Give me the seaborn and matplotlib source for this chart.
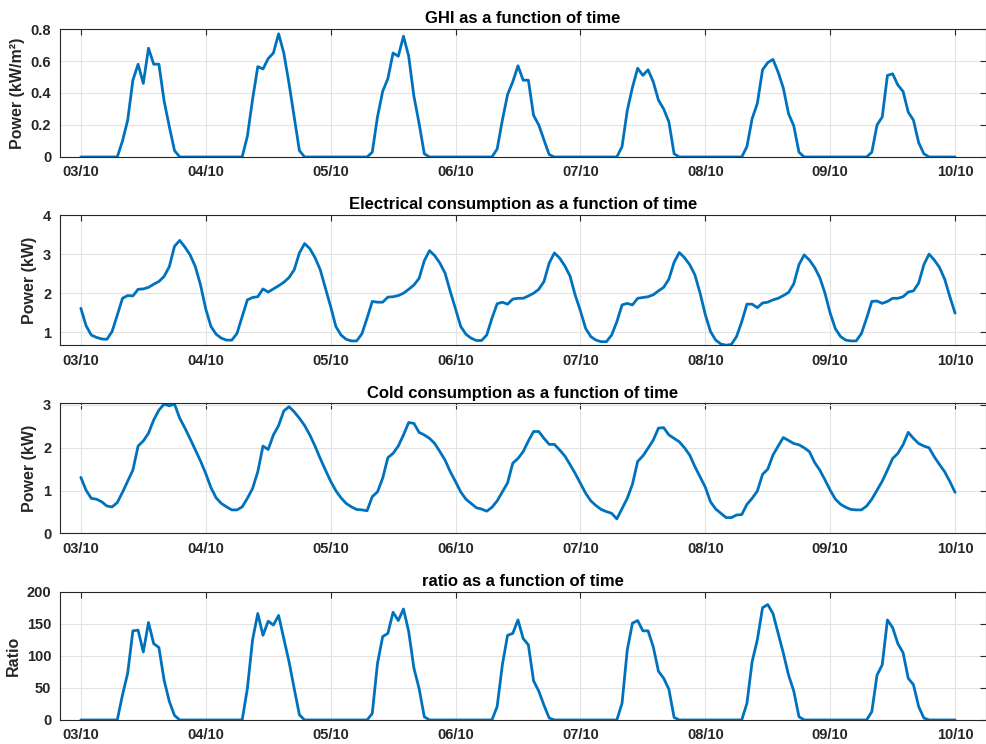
import pandas as pd
import numpy as np
import matplotlib
matplotlib.use("Agg")
import matplotlib.pyplot as plt
import matplotlib.dates as mdates
import seaborn as sns

# hourly samples, 03/10 00:00 -> 10/10 00:00
times = pd.date_range("2023-10-03 00:00", periods=169, freq="h")

z8 = [0] * 8
z5 = [0] * 5
ghi = (z8 + [0.10, 0.23, 0.48, 0.58, 0.46, 0.68, 0.58, 0.58, 0.35, 0.19, 0.04] + z5
       + z8 + [0.13, 0.36, 0.565, 0.55, 0.615, 0.65, 0.77, 0.65, 0.46, 0.25, 0.04] + z5
       + z8 + [0.03, 0.25, 0.41, 0.49, 0.65, 0.63, 0.755, 0.63, 0.38, 0.21, 0.02] + z5
       + z8 + [0.05, 0.23, 0.39, 0.47, 0.57, 0.48, 0.48, 0.26, 0.20, 0.106, 0.015] + z5
       + z8 + [0.065, 0.29, 0.435, 0.555, 0.51, 0.545, 0.47, 0.355, 0.30, 0.22, 0.02] + z5
       + z8 + [0.065, 0.24, 0.335, 0.545, 0.59, 0.61, 0.53, 0.43, 0.27, 0.195, 0.03] + z5
       + z8 + [0.03, 0.20, 0.25, 0.51, 0.52, 0.45, 0.41, 0.28, 0.23, 0.09, 0.02] + z5
       + [0])

elec = [1.615, 1.17, 0.93, 0.87, 0.83, 0.82, 1.02, 1.44, 1.87, 1.94, 1.93, 2.10,
        2.11, 2.15, 2.23, 2.30, 2.43, 2.68, 3.20, 3.35, 3.18, 2.98, 2.68, 2.21,
        1.60, 1.15, 0.95, 0.85, 0.80, 0.80, 0.97, 1.40, 1.83, 1.89, 1.91, 2.11,
        2.03, 2.11, 2.19, 2.28, 2.40, 2.60, 3.03, 3.27, 3.14, 2.91, 2.60, 2.13,
        1.66, 1.15, 0.93, 0.82, 0.78, 0.78, 0.96, 1.36, 1.79, 1.77, 1.77, 1.90,
        1.91, 1.94, 2.00, 2.10, 2.21, 2.38, 2.83, 3.09, 2.96, 2.77, 2.51, 2.04,
        1.60, 1.15, 0.95, 0.85, 0.79, 0.79, 0.93, 1.36, 1.73, 1.77, 1.72, 1.85,
        1.87, 1.87, 1.93, 2.00, 2.10, 2.30, 2.77, 3.03, 2.90, 2.70, 2.44, 1.95,
        1.55, 1.10, 0.89, 0.80, 0.76, 0.76, 0.93, 1.27, 1.70, 1.74, 1.70, 1.87,
        1.89, 1.91, 1.96, 2.06, 2.15, 2.36, 2.79, 3.04, 2.91, 2.73, 2.47, 2.00,
        1.45, 1.02, 0.80, 0.70, 0.67, 0.69, 0.89, 1.27, 1.72, 1.72, 1.63, 1.75,
        1.77, 1.83, 1.87, 1.94, 2.02, 2.24, 2.73, 2.98, 2.85, 2.66, 2.40, 2.00,
        1.49, 1.09, 0.89, 0.80, 0.78, 0.78, 0.97, 1.36, 1.79, 1.80, 1.74, 1.79,
        1.87, 1.87, 1.91, 2.03, 2.06, 2.26, 2.73, 3.00, 2.85, 2.66, 2.36, 1.91,
        1.49]

cold = [1.31, 1.01, 0.82, 0.80, 0.74, 0.64, 0.62, 0.72, 0.96, 1.22, 1.48, 2.04,
        2.16, 2.34, 2.65, 2.88, 3.02, 2.98, 3.02, 2.69, 2.46, 2.21, 1.95, 1.69,
        1.40, 1.07, 0.83, 0.70, 0.62, 0.55, 0.55, 0.62, 0.82, 1.05, 1.44, 2.04,
        1.96, 2.30, 2.52, 2.86, 2.96, 2.84, 2.69, 2.52, 2.30, 2.04, 1.75, 1.48,
        1.22, 1.00, 0.83, 0.70, 0.62, 0.56, 0.55, 0.53, 0.86, 0.97, 1.29, 1.77,
        1.87, 2.04, 2.30, 2.59, 2.57, 2.36, 2.30, 2.22, 2.10, 1.91, 1.71, 1.44,
        1.21, 0.97, 0.80, 0.70, 0.60, 0.57, 0.52, 0.61, 0.76, 0.97, 1.18, 1.64,
        1.75, 1.91, 2.16, 2.38, 2.38, 2.22, 2.08, 2.08, 1.95, 1.81, 1.61, 1.40,
        1.17, 0.94, 0.76, 0.65, 0.56, 0.51, 0.47, 0.34, 0.58, 0.82, 1.15, 1.68,
        1.81, 1.99, 2.18, 2.46, 2.47, 2.30, 2.22, 2.14, 2.00, 1.83, 1.56, 1.32,
        1.08, 0.74, 0.57, 0.47, 0.37, 0.37, 0.43, 0.44, 0.68, 0.82, 0.99, 1.38,
        1.50, 1.83, 2.04, 2.24, 2.17, 2.10, 2.07, 2.00, 1.91, 1.66, 1.48, 1.25,
        1.01, 0.80, 0.68, 0.61, 0.56, 0.55, 0.55, 0.64, 0.80, 1.01, 1.22, 1.48,
        1.75, 1.87, 2.07, 2.36, 2.22, 2.10, 2.04, 2.00, 1.79, 1.61, 1.44, 1.21,
        0.96]

ratio = (z8 + [39, 73, 139, 140, 106, 152, 119, 113, 62, 29, 7] + z5
         + z8 + [49, 125, 166, 132, 154, 148, 163, 127, 91, 49, 8] + z5
         + z8 + [10, 88, 130, 135, 168, 155, 173, 138, 81, 49, 5] + z5
         + z8 + [21, 86, 132, 135, 156, 127, 117, 61, 45, 23, 3] + z5
         + z8 + [26, 109, 151, 155, 139, 139, 114, 76, 65, 48, 4] + z5
         + z8 + [26, 91, 125, 175, 180, 166, 135, 104, 70, 45, 5] + z5
         + z8 + [13, 70, 86, 156, 144, 119, 105, 65, 55, 21, 3] + z5
         + [0])

titles = ["GHI as a function of time",
          "Electrical consumption as a function of time",
          "Cold consumption as a function of time",
          "ratio as a function of time"]
ylabels = ["Power (kW/m²)", "Power (kW)", "Power (kW)", "Ratio"]
yticks = [[0, 0.2, 0.4, 0.6, 0.8], [1, 2, 3, 4], [0, 1, 2, 3], [0, 50, 100, 150, 200]]
ylims = [(0, 0.8), (0.67, 4), (0, 3.04), (0, 200)]
series = [ghi, elec, cold, ratio]

sns.set_style("white")
plt.rcParams['font.family'] = ['Liberation Sans', 'DejaVu Sans']
plt.rcParams['font.weight'] = 'bold'

fig = plt.figure(figsize=(9.87, 7.44), dpi=100)
# axes boxes: [left, bottom, width, height] in figure fraction
boxes = [[0.0603, 0.789, 0.939, 0.172],
         [0.0603, 0.536, 0.939, 0.175],
         [0.0603, 0.283, 0.939, 0.175],
         [0.0603, 0.0323, 0.939, 0.1724]]

xmin = pd.Timestamp("2023-10-03 00:00") - pd.Timedelta(hours=4.1)
xmax = pd.Timestamp("2023-10-10 00:00") + pd.Timedelta(hours=6.0)

for box, y, title, ylab, yt, yl in zip(boxes, series, titles, ylabels, yticks, ylims):
    ax = fig.add_axes(box)
    sns.lineplot(x=times, y=y, ax=ax, color="#0072BD", linewidth=2)
    ax.set_xlim(xmin, xmax)
    ax.set_ylim(*yl)
    ax.set_yticks(yt)
    ax.set_yticklabels([f"{v:g}" for v in yt])
    ax.xaxis.set_major_locator(mdates.DayLocator())
    ax.xaxis.set_major_formatter(mdates.DateFormatter("%d/%m"))
    ax.grid(True, color="#e3e3e3", linewidth=0.8)
    ax.tick_params(direction="in", length=4, width=0.8, top=True, right=True,
                   labelsize=10.5, colors="#262626", pad=6)
    for lab in ax.get_xticklabels() + ax.get_yticklabels():
        lab.set_fontweight("bold")
    for s in ax.spines.values():
        s.set_color("#262626")
        s.set_linewidth(0.8)
    ax.set_title(title, fontsize=12, fontweight="bold", color="black", pad=4)
    ax.set_ylabel(ylab, fontsize=11.5, fontweight="bold", color="#262626", labelpad=4)
    ax.set_xlabel("")

fig.savefig("out.png", dpi=100)
